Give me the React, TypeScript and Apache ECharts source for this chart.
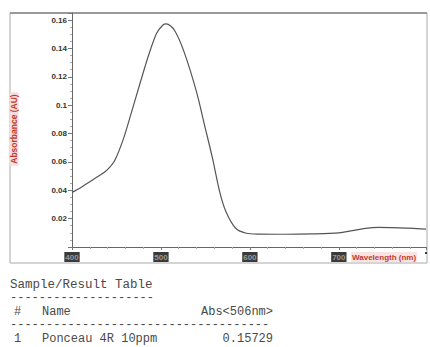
import React, { useEffect, useRef } from "react";
import * as echarts from "echarts";

const wavelengths = [400, 410, 420, 430, 439, 448, 458, 467, 477, 486, 495, 502, 506, 515, 526, 540, 549, 558, 566, 573, 584, 596, 610, 640, 670, 700, 715, 730, 745, 760, 775, 788, 798];
const absorbance = [0.0385, 0.042, 0.046, 0.05, 0.054, 0.061, 0.0766, 0.0953, 0.1165, 0.135, 0.1506, 0.1564, 0.1573, 0.153, 0.1376, 0.1094, 0.086, 0.0625, 0.039, 0.025, 0.0132, 0.0097, 0.0091, 0.009, 0.0092, 0.0099, 0.0115, 0.0132, 0.0138, 0.0136, 0.0133, 0.013, 0.0126];

const tableTitle = "Sample/Result Table";
const tableHeader = ["#", "Name", "Abs<506nm>"];
const tableRow = ["1", "Ponceau 4R 10ppm", "0.15729"];
const yTitle = "Absorbance (AU)";
const xTitle = "Wavelength (nm)";

export default function App() {
  const ref = useRef<HTMLDivElement>(null);
  useEffect(() => {
    const chart = echarts.init(ref.current!, null, { renderer: "svg" });
    const mono = "Liberation Mono";
    const txtColor = "#4a4a4a";
    const t = (text: string, x: number, y: number, size: number, align = "left") => ({
      type: "text",
      x,
      y,
      style: { text, fill: txtColor, fontSize: size, fontFamily: mono, align, verticalAlign: "middle" },
    });
    const option: any = {
      animation: false,
      backgroundColor: "#fff",
      grid: { left: 72, right: 3, top: 13, bottom: 100 },
      xAxis: {
        type: "value",
        min: 400,
        max: 798,
        interval: 100,
        splitLine: { show: false },
        axisLine: { lineStyle: { color: "#666", width: 1 } },
        axisTick: { show: true, length: 3, lineStyle: { color: "#777" } },
        minorTick: { show: true, splitNumber: 5, length: 2, lineStyle: { color: "#aaa" } },
        axisLabel: {
          fontSize: 8,
          fontWeight: "bold",
          color: "#999",
          backgroundColor: "#3a3a3a",
          padding: [1, 1],
          margin: 5,
          formatter: (v: number) => (v % 100 === 0 && v < 800 ? String(v) : ""),
        },
      },
      yAxis: {
        type: "value",
        min: 0,
        max: 0.165,
        interval: 0.02,
        splitLine: { show: false },
        axisLine: { show: true, lineStyle: { color: "#666", width: 1 } },
        axisTick: { show: true, length: 4, lineStyle: { color: "#777" } },
        minorTick: { show: true, splitNumber: 4, length: 2, lineStyle: { color: "#aaa" } },
        axisLabel: {
          fontSize: 8,
          fontWeight: "bold",
          color: "#333",
          margin: 5,
          formatter: (v: number) => {
            const r = Math.round(v * 100);
            if (r === 0 || Math.abs(v * 100 - r) > 1e-6 || r % 2 !== 0) return "";
            return String(+v.toFixed(2));
          },
        },
      },
      series: [
        {
          type: "line",
          data: wavelengths.map((w, i) => [w, absorbance[i]]),
          showSymbol: false,
          smooth: 0.3,
          lineStyle: { color: "#555", width: 1.2 },
        },
      ],
      graphic: [
        { type: "rect", shape: { x: 10, y: 13, width: 417, height: 250 }, style: { fill: "none", stroke: "#aaa", lineWidth: 1 }, z: 0 },
        { type: "line", shape: { x1: 10, y1: 13, x2: 427, y2: 13 }, style: { stroke: "#999", lineWidth: 2 } },
        {
          type: "text",
          x: 14,
          y: 129,
          rotation: Math.PI / 2,
          style: {
            text: yTitle,
            fill: "#c0392b",
            fontSize: 8.5,
            fontWeight: "bold",
            align: "center",
            verticalAlign: "middle",
            backgroundColor: "#f7dede",
            padding: [0, 2],
          },
        },
        {
          type: "text",
          x: 351,
          y: 257,
          style: {
            text: xTitle,
            fill: "#c0392b",
            fontSize: 8,
            fontWeight: "bold",
            align: "left",
            verticalAlign: "middle",
            backgroundColor: "#fbe3e3",
            padding: [1, 1],
          },
        },
        t(tableTitle, 10, 284.5, 12.5),
        t("-".repeat(20), 10, 297.5, 12),
        t(tableHeader[0], 14, 312, 12),
        t(tableHeader[1], 42, 312, 12),
        t(tableHeader[2], 273, 312, 12, "right"),
        t("-".repeat(36), 10, 325, 12),
        t(tableRow[0], 14, 338.5, 12),
        t(tableRow[1], 42, 338.5, 12),
        t(tableRow[2], 273, 338.5, 12, "right"),
      ],
    };
    chart.setOption(option);
    return () => chart.dispose();
  }, []);
  return <div ref={ref} style={{ position: "fixed", left: 0, top: 0, width: 430, height: 347 }} />;
}
